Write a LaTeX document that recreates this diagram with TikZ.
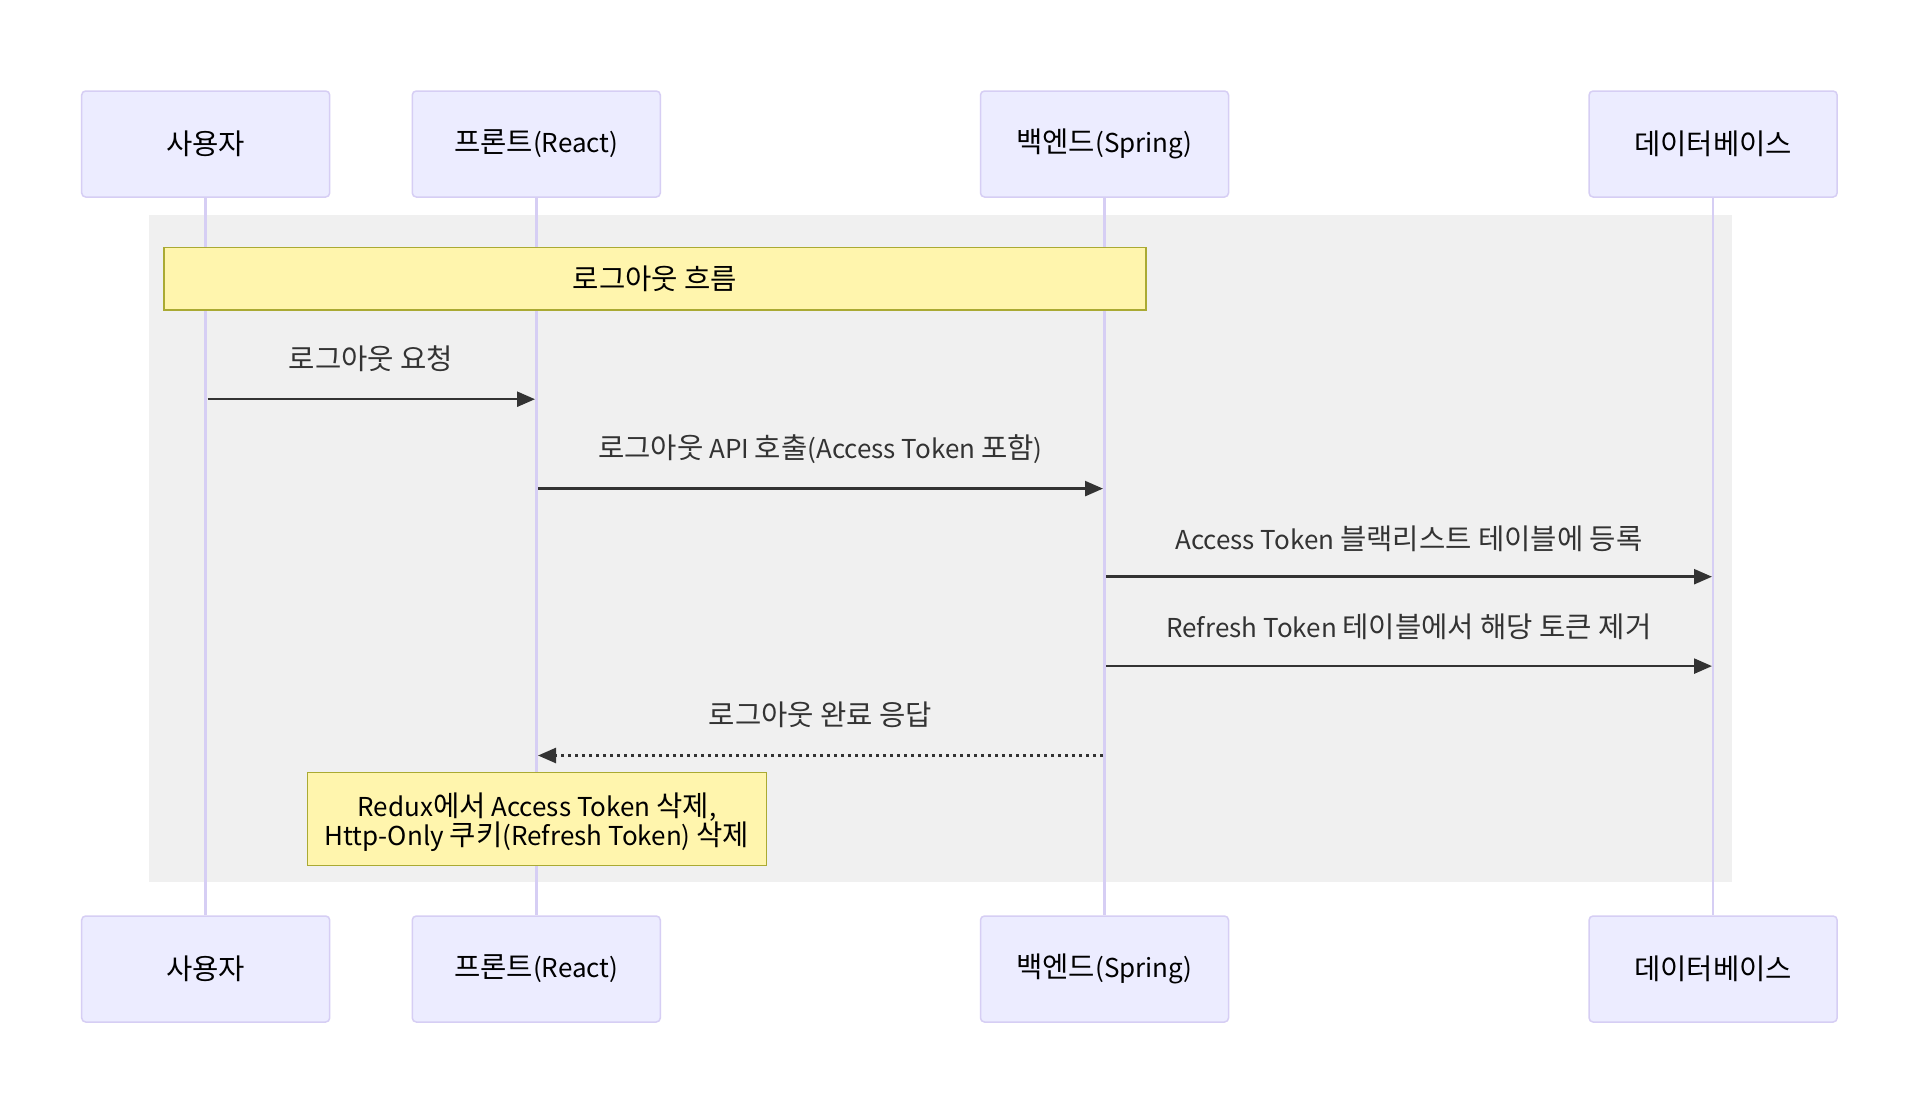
\documentclass[tikz,border=0pt]{standalone}
\usepackage{fontspec}
\setmainfont{Noto Sans CJK KR}
\newfontfamily\korfont[Scale=1.1]{Noto Sans CJK KR}
\newcommand\kor[1]{{\korfont #1}}
\usetikzlibrary{arrows.meta}
\definecolor{actfill}{HTML}{ECECFF}
\definecolor{actline}{HTML}{D6CEF4}
\definecolor{rectbg}{HTML}{F0F0F0}
\definecolor{notefill}{HTML}{FFF5AD}
\definecolor{noteline}{HTML}{AAAA33}
\definecolor{msgcol}{HTML}{333333}
\tikzset{
  actorbox/.style={draw=actline, fill=actfill, rounded corners=4pt, line width=1.5pt,
    minimum width=248pt, minimum height=106pt, inner sep=0pt, text=black,
    font=\fontsize{26}{30}\selectfont},
  lifeline/.style={draw=actline, line width=2.5pt},
  notebox/.style={draw=noteline, fill=notefill, line width=1.5pt, inner sep=0pt,
    text=black, align=center, font=\fontsize{26}{29.5}\selectfont},
  msgline/.style={draw=msgcol, line width=2.5pt, -{Triangle[length=18pt,width=15pt]}},
  replyline/.style={msgline, dash pattern=on 3.5pt off 3.5pt},
  msglabel/.style={text=msgcol, inner sep=0pt, font=\fontsize{26}{30}\selectfont},
}
\begin{document}
\begin{tikzpicture}[x=1pt,y=-1pt]
\useasboundingbox (0,0) rectangle (1920,1116);
\fill[white] (0,0) rectangle (1920,1116);

% block background
\node[fill=rectbg, minimum width=1583pt, minimum height=667pt, inner sep=0pt] (blk) at (940,548) {};

% actors
\node[actorbox] (ua) at (205.7,144) {\kor{사용자}};
\node[actorbox] (fa) at (536.3,144) {\kor{프론트}(React)};
\node[actorbox] (ba) at (1104.5,144) {\kor{백엔드}(Spring)};
\node[actorbox] (da) at (1713.1,144) {\kor{데이터베이스}};
\node[actorbox] (ub) at (205.7,969) {\kor{사용자}};
\node[actorbox] (fb) at (536.3,969) {\kor{프론트}(React)};
\node[actorbox] (bb) at (1104.5,969) {\kor{백엔드}(Spring)};
\node[actorbox] (db) at (1713.1,969) {\kor{데이터베이스}};

% lifelines
\draw[lifeline] (ua.south) -- (ub.north);
\draw[lifeline] (fa.south) -- (fb.north);
\draw[lifeline] (ba.south) -- (bb.north);
\draw[lifeline] (da.south) -- (db.north);

% note 1
\node[notebox, minimum width=982pt, minimum height=62.5pt] (n1) at (655.1,278.5) {\kor{로그아웃 흐름}};

% message end points
\coordinate (m1a) at (207.5,399.2); \coordinate (m1b) at (535,399.2);
\coordinate (m2a) at (538,488.6);  \coordinate (m2b) at (1103,488.6);
\coordinate (m3a) at (1106,576.7); \coordinate (m3b) at (1712,576.7);
\coordinate (m4a) at (1106,666.1); \coordinate (m4b) at (1712,666.1);
\coordinate (m5a) at (1103,755.5); \coordinate (m5b) at (538,755.5);

\draw[msgline] (m1a) -- (m1b);
\draw[msgline] (m2a) -- (m2b);
\draw[msgline] (m3a) -- (m3b);
\draw[msgline] (m4a) -- (m4b);
\draw[replyline] (m5a) -- (m5b);

\node[msglabel] (l1) at (371,358.5) {\kor{로그아웃 요청}};
\node[msglabel] (l2) at (820.4,449) {\kor{로그아웃} API \kor{호출}(Access Token \kor{포함})};
\node[msglabel] (l3) at (1408.8,538.5) {Access Token \kor{블랙리스트 테이블에 등록}};
\node[msglabel] (l4) at (1408.8,626.5) {Refresh Token \kor{테이블에서 해당 토큰 제거}};
\node[msglabel] (l5) at (820.4,714.5) {\kor{로그아웃 완료 응답}};

% note 2
\node[notebox, minimum width=459pt, minimum height=93pt] (n2) at (536.9,819.2) {};
\node[notebox, draw=none, fill=none] (n2t) at (536.9,822)
  {Redux\kor{에서} Access Token \kor{삭제},\\Http-Only \kor{쿠키}(Refresh Token) \kor{삭제}};
\end{tikzpicture}
\end{document}
